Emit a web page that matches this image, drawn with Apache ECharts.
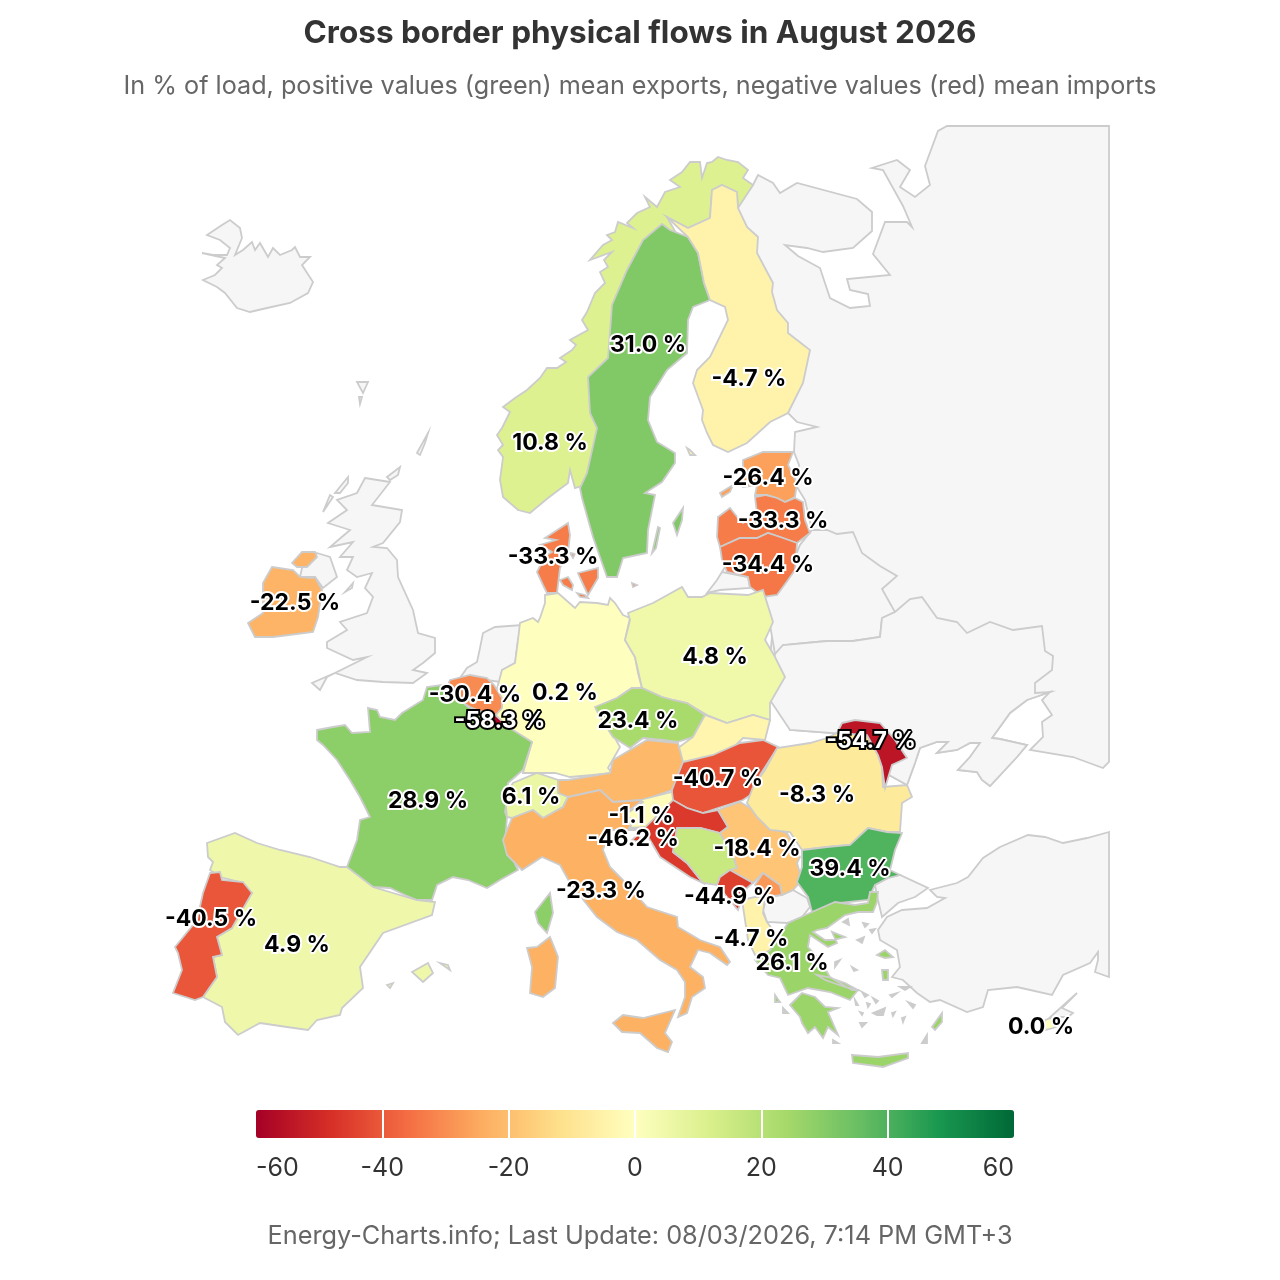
<!DOCTYPE html>
<html><head><meta charset="utf-8">
<script src="https://cdn.jsdelivr.net/npm/echarts@6/dist/echarts.min.js"></script>
<style>html,body{margin:0;background:#fff}#c{width:1280px;height:1280px}</style></head>
<body><div id="c"></div>
<script>
// ---------- values (% of load) ----------
const countries = ['Norway','Sweden','Finland','Estonia','Latvia','Lithuania','Denmark','Ireland','Germany','Poland','Belgium','Luxembourg','Czechia','Moldova','Hungary','Romania','Switzerland','France','Slovenia','Croatia','Serbia','Bulgaria','Italy','Montenegro','Portugal','Spain','Albania','Greece','Cyprus','Austria','Slovakia','Bosnia','Kosovo'];
const flows = [10.8,31.0,-4.7,-26.4,-33.3,-34.4,-33.3,-22.5,0.2,4.8,-30.4,-58.3,23.4,-54.7,-40.7,-8.3,6.1,28.9,-1.1,-46.2,-18.4,39.4,-23.3,-44.9,-40.5,4.9,-4.7,26.1,0.0,-21.5,-4.0,16.0,-28.0];
const unlabelled = ['Austria','Slovakia','Bosnia','Kosovo'];
const legendTicks = [-60,-40,-20,0,20,40,60];
const scaleColors = ['#a50026','#d73027','#f46d43','#fdae61','#fee08b','#ffffbf','#d9ef8b','#a6d96a','#66bd63','#1a9850','#006837'];
const titleText = 'Cross border physical flows in August 2026';
const subtitleText = 'In % of load, positive values (green) mean exports, negative values (red) mean imports';
const footerText = 'Energy-Charts.info; Last Update: 08/03/2026, 7:14 PM GMT+3';

// ---------- map outlines (first listed are drawn first) ----------
const outlines = [
 ['Iceland',null,['203,280 215,275 222,268 217,265 225,258 202,253 213,255 227,255 230,248 220,240 207,235 222,225 230,220 240,228 242,238 235,255 243,250 252,242 255,250 260,243 268,257 273,248 280,255 292,250 295,247 300,257 310,257 302,265 313,282 308,293 290,303 267,308 250,312 237,308 225,293 217,287']],
 ['Faroe',null,['357,382 368,382 363,393','359,397 362,397 360,404']],
 ['UK',null,['365,478 390,482 372,505 402,510 400,522 383,543 373,547 387,548 397,560 398,577 413,610 418,633 435,638 435,653 423,663 413,670 427,673 413,683 383,682 357,680 335,673 312,683 320,690 327,677 347,667 367,657 353,660 327,648 327,642 347,630 340,622 367,613 373,597 365,588 372,573 357,577 347,570 353,557 340,557 353,542 330,547 350,530 328,523 347,510 337,500 357,493','387,477 400,467 398,475 390,480','417,453 428,433 425,443 420,455','335,493 348,477 348,483 340,493','323,512 330,495 333,497','345,592 353,583 352,588','317,553 330,557 337,577 323,588 315,577 300,577 302,568']],
 ['Netherlands',null,['483,633 495,627 522,625 518,640 515,663 502,670 500,682 480,679 460,678 467,668 477,662 480,648']],
 ['East',null,['753,185 758,175 773,183 780,193 797,183 857,199 872,212 872,231 853,248 823,252 807,248 785,245 798,256 820,268 830,298 850,308 870,306 868,294 850,290 847,279 890,275 873,254 885,222 907,222 912,227 903,206 883,170 872,168 897,160 910,170 900,187 915,197 930,185 925,166 938,131 947,126 1109,126 1109,762 1103,768 1073,757 1030,750 1043,737 1042,722 1052,715 1042,700 1050,692 1027,700 1010,713 992,738 1000,739 1027,745 1017,757 990,786 982,780 977,772 958,770 970,757 980,743 970,743 957,750 937,753 948,742 937,742 920,748 915,763 907,785 880,770 860,735 790,730 770,660 775,600 790,570 800,545 812,530 805,500 797,487 799,465 794,452 795,432 817,427 797,422 788,413 770,350 750,300 735,210']],
 ['Belarus',null,['812,530 827,530 837,534 853,532 862,553 880,566 897,576 882,589 895,612 882,618 880,637 853,641 827,641 783,645 775,654 770,625 762,590 790,570 800,545']],
 ['Ukraine',null,['775,654 783,645 827,641 853,641 880,637 882,618 895,612 910,599 922,597 937,618 957,622 967,633 990,622 1013,630 1042,626 1045,651 1053,656 1052,670 1035,683 1035,693 1050,692 1027,700 1010,713 992,738 1000,739 1027,745 1017,757 990,786 982,780 977,772 958,770 970,757 980,743 970,743 957,750 937,753 948,742 937,742 920,748 915,763 907,785 880,770 860,735 790,730 770,700']],
 ['Kaliningrad',null,['707,593 717,580 725,567 722,572 748,577 750,588 720,590']],
 ['Turkey',null,['1109,832 1087,838 1063,843 1045,837 1028,835 1000,847 983,858 968,877 957,883 930,890 937,897 945,898 927,908 902,910 887,917 878,930 880,940 897,950 900,967 892,977 903,980 917,993 930,1002 940,1000 967,1012 983,1007 988,990 1017,987 1052,995 1063,975 1090,963 1098,952 1098,960 1095,972 1109,977','875,885 888,878 900,875 928,888 915,897 898,903 882,917 878,900']],
 ['NorthCyprus',null,['1077,993 1062,1008 1073,1013 1068,1017 1055,1017 1047,1020']],
 ['Macedonia',null,['767,897 782,895 793,890 807,898 810,907 802,917 787,923 767,922 763,910']],
 ['Aegean',null,['843,922 848,919 849,925','863,923 868,924 865,927','870,930 875,929 872,933','857,940 864,937 862,943','852,967 857,970 854,971','900,987 910,987 905,990','890,995 897,993 892,997','862,992 868,995 865,997','873,998 878,1001 876,1003','855,1000 858,1005 856,1005','867,1003 870,1004 868,1007','860,1012 863,1013 862,1015','873,1013 885,1008 883,1015 877,1015','892,1013 895,1012 893,1016','902,1018 905,1017 903,1022','860,1023 866,1023 862,1027','833,1040 838,1043 833,1043','783,1008 788,1013 783,1013','908,1002 915,1005 913,1008','922,1043 927,1035 927,1043','835,962 840,960 835,967']],
 ['Norway',[550,442],['667,217 688,228 710,218 712,190 722,185 737,192 738,208 753,185 743,178 748,170 738,162 727,160 718,157 712,162 707,163 702,178 700,162 690,162 682,172 670,180 680,187 665,192 657,207 645,197 650,207 637,213 627,223 633,228 618,222 615,232 607,235 612,240 603,245 590,260 612,252 604,260 608,267 600,272 605,283 595,293 587,312 582,320 588,330 570,340 576,345 572,350 560,358 566,362 557,368 547,368 540,378 527,390 515,398 503,407 510,412 502,428 497,435 503,445 498,450 503,457 500,480 503,497 518,510 530,513 548,498 568,483 570,470 575,488 600,480 620,300 680,240']],
 ['Sweden',[648,344],['662,224 643,240 627,270 612,305 608,358 588,377 590,413 597,428 587,473 580,488 582,498 593,537 607,577 617,577 623,558 647,553 648,530 655,495 645,493 662,482 675,463 675,453 657,442 648,420 650,397 667,370 687,353 688,320 693,307 710,300 704,283 698,253 688,237 670,230','673,523 683,508 682,520 677,535','652,553 658,527 660,528 656,548']],
 ['Finland',[749,378],['722,185 737,192 738,208 747,227 758,237 757,253 773,283 772,292 777,310 788,323 788,333 810,350 803,383 788,413 770,422 747,443 728,452 713,445 707,433 702,420 703,410 693,383 697,370 710,357 728,320 725,307 710,300 704,283 698,253 688,237 667,217 688,228 710,218 712,190','687,448 690,450 695,455 690,455']],
 ['Estonia',[768,477],['743,460 763,452 793,452 788,465 797,483 795,497 785,502 777,498 767,495 755,495 757,485 743,487','720,493 733,485 730,492 722,497']],
 ['Latvia',[783,520],['755,497 765,495 777,498 785,502 795,498 803,502 805,520 810,533 797,543 783,538 768,533 757,538 740,538 720,547 717,537 718,517 730,508 738,518 743,523 757,513']],
 ['Lithuania',[768,564],['720,547 740,538 757,538 768,533 783,538 797,543 795,570 788,580 777,595 763,597 750,587 748,577 727,572 722,560']],
 ['Germany',[565,692],['545,595 558,593 575,608 580,602 597,603 608,605 610,598 615,603 623,615 630,618 625,640 635,657 638,673 642,688 632,688 617,698 597,707 603,717 620,747 608,768 612,773 593,775 570,777 555,773 523,773 532,742 513,733 500,723 492,707 502,670 515,663 518,640 520,623 533,618 538,622 540,618 545,603']],
 ['Denmark',[553,556],['568,523 545,538 556,540 540,545 552,552 545,556 537,572 543,585 547,593 557,593 560,568 568,552 570,535','560,580 568,577 573,585 572,590 563,585','578,573 598,568 598,578 588,595 582,582','577,593 585,595 588,598 580,597','632,583 637,585 633,587','570,553 575,554 573,558']],
 ['Ireland',[295,602],['272,567 293,570 300,577 312,578 315,577 322,590 318,617 313,632 273,637 255,637 248,623 263,613 263,583','292,563 302,552 315,552 317,557 307,567 297,567']],
 ['Poland',[715,656],['628,613 653,603 682,587 688,597 702,597 710,593 748,595 763,590 773,622 765,640 775,657 785,677 770,703 770,720 753,715 727,723 707,715 687,703 673,700 662,697 642,688 635,657 625,640 630,620']],
 ['Czechia',[638,720],['595,707 617,698 632,688 642,688 662,697 673,700 687,703 705,715 693,737 677,742 663,740 643,738 630,748 613,737 600,717']],
 ['Slovakia',null,['705,715 727,723 753,715 770,720 765,740 743,738 733,748 710,757 683,763 678,748 693,737']],
 ['Austria',null,['558,780 568,780 610,773 613,760 647,740 678,743 683,762 672,790 643,800 613,802 600,790 568,797 558,793']],
 ['Hungary',[718,778],['683,762 713,755 740,743 763,740 778,747 760,775 758,790 743,800 718,808 703,813 687,808 672,800 672,790']],
 ['France',[428,800],['317,730 333,727 345,725 352,733 370,732 368,708 377,710 380,717 395,720 402,713 423,700 427,687 442,685 468,707 493,717 513,730 532,742 523,770 508,783 507,800 505,812 507,817 505,843 518,870 500,880 487,888 468,880 453,877 437,885 432,900 417,900 405,895 390,888 373,887 353,873 347,867 357,840 360,820 370,817 360,797 350,780 337,760 323,745 317,740','535,912 550,893 553,913 547,933 538,923']],
 ['Belgium',[475,694],['450,680 470,675 487,678 494,685 502,698 502,708 495,716 488,714 470,707 462,702 445,692']],
 ['Luxembourg',[500,720],['492,712 503,722 497,727 490,724']],
 ['Switzerland',[531,796],['505,797 513,783 537,773 558,780 558,793 568,797 563,807 543,818 533,810 512,818 507,817']],
 ['Italy',[601,890],['512,818 533,810 543,818 563,807 568,797 600,790 613,802 643,800 623,815 633,820 628,830 610,830 603,850 610,867 623,880 647,907 677,917 678,927 700,940 720,947 730,962 727,965 710,953 698,950 690,967 703,977 705,988 692,997 687,1013 678,1017 685,997 685,982 677,970 660,960 637,940 617,932 597,917 570,883 560,865 542,857 522,870 507,855 503,840','613,1023 623,1015 643,1018 675,1010 665,1033 672,1042 668,1052 657,1048 640,1033 622,1032','527,948 537,947 550,937 558,957 555,988 543,997 530,993 532,967']],
 ['Slovenia',[641,815],['640,800 672,792 673,800 668,813 658,828 647,827 630,828 633,820 625,815 643,802']],
 ['Croatia',[633,838],['673,800 687,808 703,813 718,810 728,827 720,833 700,828 677,828 673,852 687,863 703,883 690,877 660,857 650,840 643,830 628,830 637,828 642,843 632,840']],
 ['Bosnia',null,['677,828 700,828 720,833 733,855 737,868 720,877 717,885 703,883 687,863 673,852']],
 ['Serbia',[757,848],['718,810 740,802 757,812 767,827 787,833 800,857 797,863 802,880 793,890 782,895 780,885 763,873 753,883 730,870 737,868 733,855 720,833 728,827']],
 ['Kosovo',null,['763,873 780,885 782,895 767,897 755,885']],
 ['Montenegro',[730,896],['720,877 730,870 753,883 747,888 743,897 738,910 727,897 717,885']],
 ['Albania',[751,938],['742,900 755,897 765,897 763,913 767,922 778,937 770,953 755,955 748,940 745,920']],
 ['Romania',[817,794],['747,803 753,787 765,770 777,748 810,743 827,738 837,733 867,735 878,755 882,767 883,787 907,785 912,797 902,803 900,832 887,832 868,828 850,845 827,847 802,850 790,832 770,830 757,817']],
 ['Moldova',[871,740],['842,723 855,720 880,723 895,740 907,758 892,765 885,788 882,767 878,755 867,735 837,733']],
 ['Bulgaria',[850,868],['802,850 827,847 850,845 868,828 887,832 902,833 895,850 890,870 900,875 888,878 875,885 868,900 840,903 812,912 808,897 797,882 802,867']],
 ['Greece',[792,962],['788,923 812,912 835,902 855,905 868,903 870,892 878,892 877,902 873,912 858,912 845,915 827,928 817,930 813,932 825,940 833,940 845,937 832,932 837,943 828,947 810,935 808,947 820,960 830,977 852,990 858,990 850,1000 830,992 808,988 788,995 780,978 768,975 755,960 770,950','790,1005 802,993 815,997 825,1007 838,1008 828,1012 838,1035 828,1027 823,1038 815,1027 808,1033 802,1023 800,1017','852,1055 878,1057 908,1053 908,1058 883,1067 853,1063','817,975 828,977 845,983 858,990 845,987 825,980','877,955 885,950 893,957 885,958','882,970 888,970 888,980 883,980','942,1013 932,1027 935,1030 942,1022','775,995 780,1002 775,1002']],
 ['Spain',[297,944],['207,843 235,833 257,843 280,850 310,857 340,867 347,867 373,887 393,893 417,900 435,902 432,915 383,933 360,967 363,988 342,1008 340,1015 317,1020 308,1030 287,1027 260,1023 238,1035 225,1022 222,1007 203,997 217,977 213,957 222,955 217,937 232,928 230,923 247,897 252,893 240,882 220,877 210,870 213,862 208,857','412,972 428,963 433,973 423,982','440,963 448,965 450,970','387,985 393,983 390,988']],
 ['Portugal',[211,918],['210,873 220,872 222,880 243,882 252,893 232,928 217,937 222,955 213,957 217,977 203,997 195,1000 173,993 182,970 178,953 175,947 197,920 203,893']],
 ['Cyprus',[1041,1026],['1045,1020 1055,1017 1060,1025 1053,1028 1045,1030']]
];

// ---------- build ----------
const ring = s => { const r = s.split(' ').map(p => { const [x,y] = p.split(',').map(Number); return [x,-y]; }); r.push(r[0]); return r; };
const geo = { type:'FeatureCollection', features: outlines.map(([name,cp,rings]) => ({
  type:'Feature',
  properties: cp ? {name, cp:[cp[0],-cp[1]]} : {name},
  geometry:{type:'MultiPolygon', coordinates:rings.map(s=>[ring(s)])}
}))};
echarts.registerMap('europe', geo);

const chart = echarts.init(document.getElementById('c'), null, {renderer:'canvas'});
const F = 'Inter, "Liberation Sans", sans-serif';
const fmt = v => (v === 0 ? '0.0' : v.toFixed(1)) + ' %';
const seriesData = countries.map((name,i) => {
  const value = flows[i];
  const dark = value < -50;
  return { name, value,
    label: unlabelled.includes(name) ? {show:false} :
      {show:true, color: dark ? '#fff' : '#000', textBorderColor: dark ? '#000' : '#fff'} };
}).concat([{name:'Aegean', value:NaN, itemStyle:{areaColor:'#cccccc'}}]);
chart.setOption({
  animation:false,
  backgroundColor:'#fff',
  title:[
    {text:titleText,left:'center',top:18,padding:0,textStyle:{fontFamily:F,fontSize:31.5,fontWeight:700,color:'#333'}},
    {text:subtitleText,left:'center',top:74,padding:0,textStyle:{fontFamily:F,fontSize:25.2,fontWeight:400,color:'#666'}},
    {text:footerText,left:'center',top:1224,padding:0,textStyle:{fontFamily:F,fontSize:25.3,fontWeight:400,color:'#666'}}
  ],
  visualMap:{type:'continuous',seriesIndex:0,min:-60,max:60,orient:'horizontal',left:256,top:1110,padding:0,
    itemWidth:28,itemHeight:758,calculable:false,realtime:false,hoverLink:false,text:null,showLabel:false,
    textStyle:{fontSize:0},inRange:{color:scaleColors}},
  grid:{left:256,top:1110,width:758,height:28},
  xAxis:{type:'value',min:legendTicks[0],max:legendTicks[legendTicks.length-1],interval:20,z:6,
    axisLine:{show:false},axisTick:{show:false},
    splitLine:{show:true,showMinLine:false,showMaxLine:false,lineStyle:{color:'#fff',width:2}},
    axisLabel:{margin:18,fontFamily:F,fontSize:25,color:'#333',alignMinLabel:'left',alignMaxLabel:'right',hideOverlap:false}},
  yAxis:{type:'value',show:false,min:0,max:1},
  series:[{type:'map',map:'europe',roam:false,silent:true,aspectScale:1,
    boundingCoords:[[0,0],[1280,-1280]],layoutCenter:['50%','50%'],layoutSize:1280,
    selectedMode:false,
    itemStyle:{areaColor:'#f6f6f6',borderColor:'#cccccc',borderWidth:1.8},
    emphasis:{disabled:true},
    label:{show:true,fontFamily:F,fontSize:23,fontWeight:700,color:'#000',textBorderColor:'#fff',textBorderWidth:4,offset:[0,1],
      formatter:p=> (p.value===undefined||isNaN(p.value)) ? '' : fmt(p.value)},
    data:seriesData}]
});
</script></body></html>
